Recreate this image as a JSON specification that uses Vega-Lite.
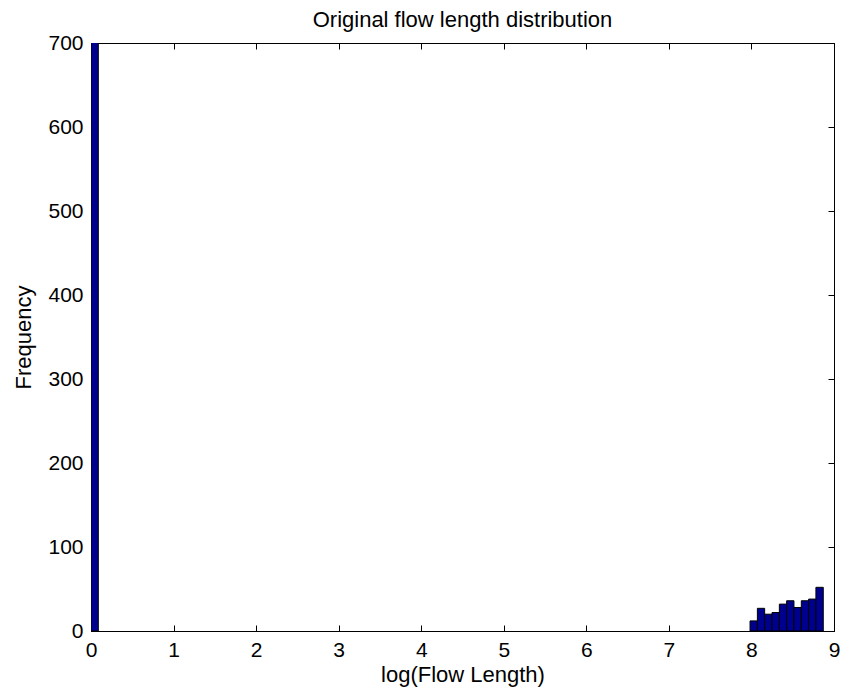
{
  "$schema": "https://vega.github.io/schema/vega-lite/v6.json",
  "width": 743,
  "height": 588,
  "autosize": {"type": "none"},
  "padding": {"left": 91, "top": 43, "right": 11, "bottom": 69},
  "background": "white",
  "title": {
    "text": "Original flow length distribution",
    "font": "Liberation Sans",
    "fontSize": 22,
    "fontWeight": "normal",
    "color": "black",
    "offset": 0
  },
  "config": {
    "view": {"stroke": "black", "strokeWidth": 1},
    "axis": {
      "labelFont": "Liberation Sans",
      "titleFont": "Liberation Sans",
      "labelFontSize": 21,
      "titleFontSize": 22,
      "titleFontWeight": "normal",
      "labelColor": "black",
      "titleColor": "black",
      "domainColor": "black",
      "tickColor": "black",
      "grid": false,
      "tickSize": -6
    }
  },
  "data": {
    "values": [
      {"x0": 0.0, "x1": 0.0887, "count": 2000},
      {"x0": 7.983, "x1": 8.072, "count": 12},
      {"x0": 8.072, "x1": 8.160, "count": 27},
      {"x0": 8.160, "x1": 8.249, "count": 20},
      {"x0": 8.249, "x1": 8.338, "count": 22},
      {"x0": 8.338, "x1": 8.426, "count": 32},
      {"x0": 8.426, "x1": 8.515, "count": 36},
      {"x0": 8.515, "x1": 8.604, "count": 28},
      {"x0": 8.604, "x1": 8.693, "count": 36},
      {"x0": 8.693, "x1": 8.781, "count": 38},
      {"x0": 8.781, "x1": 8.870, "count": 52}
    ]
  },
  "layer": [
    {
      "mark": {"type": "bar", "fill": "#00008F", "stroke": "black", "strokeWidth": 1, "clip": true},
      "encoding": {
        "x": {
          "field": "x0", "type": "quantitative",
          "scale": {"domain": [0, 9], "nice": false, "zero": false},
          "axis": {"orient": "bottom", "values": [0,1,2,3,4,5,6,7,8,9], "title": "log(Flow Length)", "labelPadding": 14, "titlePadding": 4, "labelFlush": false}
        },
        "x2": {"field": "x1"},
        "y": {
          "field": "count", "type": "quantitative",
          "scale": {"domain": [0, 700], "nice": false},
          "axis": {"orient": "left", "values": [0,100,200,300,400,500,600,700], "title": "Frequency", "labelPadding": 14, "titlePadding": 12, "labelFlush": false}
        },
        "y2": {"datum": 0}
      }
    },
    {
      "mark": {"type": "bar", "opacity": 0, "clip": true},
      "encoding": {
        "x": {
          "field": "x0", "type": "quantitative",
          "scale": {"domain": [0, 9], "nice": false, "zero": false},
          "axis": {"orient": "top", "values": [0,1,2,3,4,5,6,7,8,9], "labels": false, "title": null}
        },
        "x2": {"field": "x1"},
        "y": {
          "field": "count", "type": "quantitative",
          "scale": {"domain": [0, 700], "nice": false},
          "axis": {"orient": "right", "values": [0,100,200,300,400,500,600,700], "labels": false, "title": null}
        },
        "y2": {"datum": 0}
      }
    }
  ],
  "resolve": {"axis": {"x": "independent", "y": "independent"}}
}
